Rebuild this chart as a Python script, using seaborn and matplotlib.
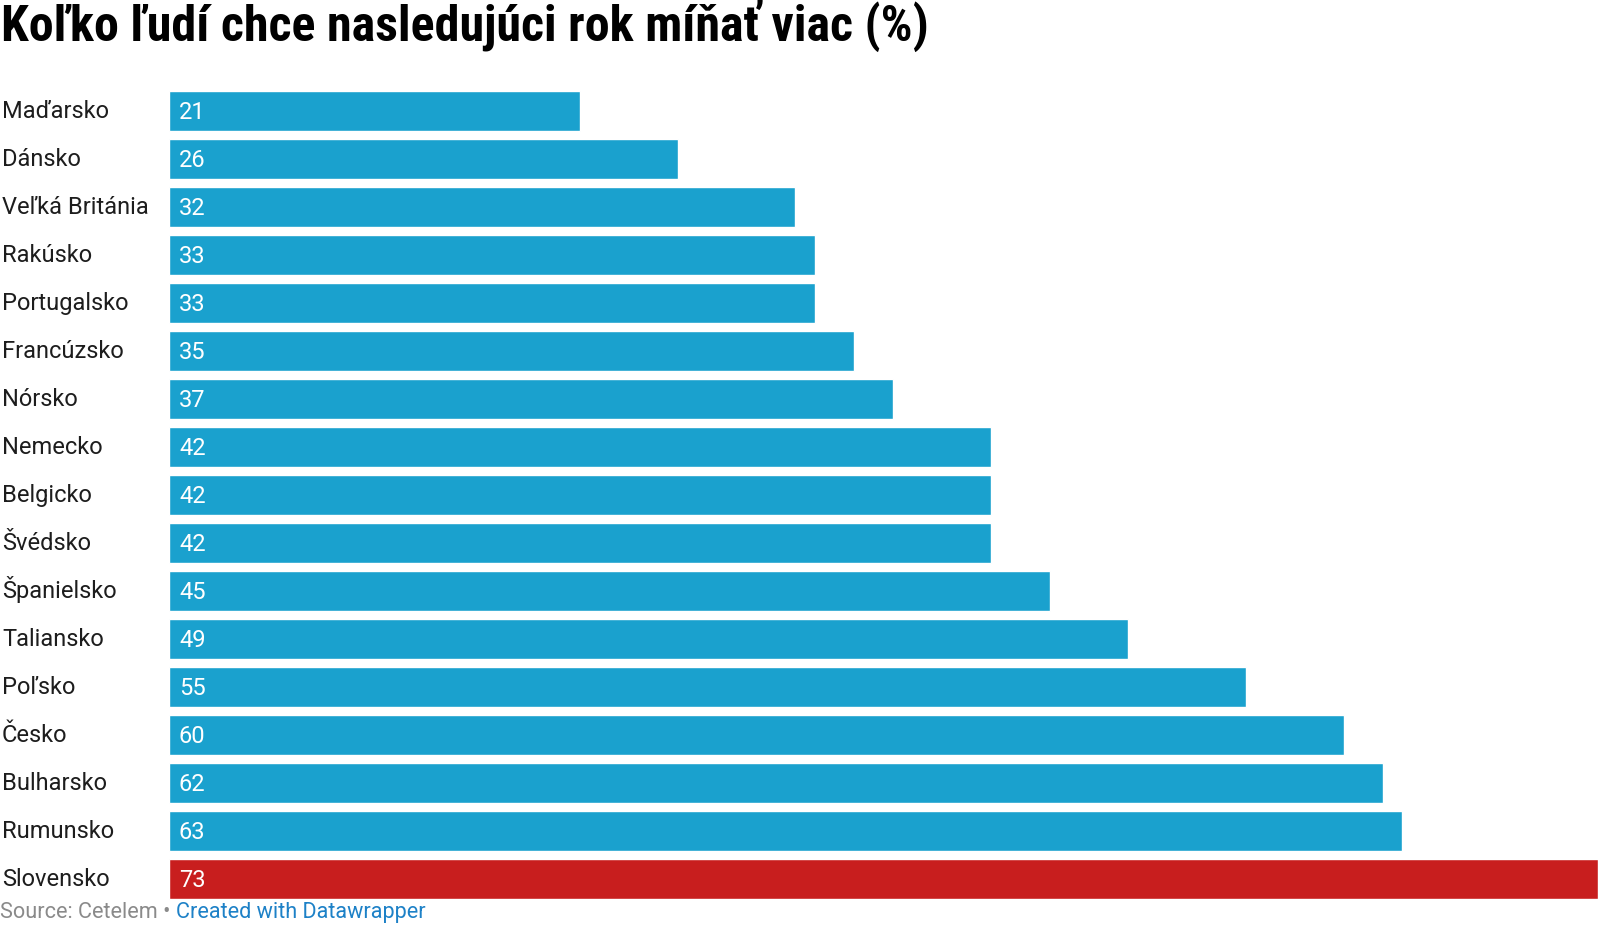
import matplotlib
matplotlib.use("Agg")
import matplotlib.pyplot as plt
import matplotlib.transforms as mtransforms
import seaborn as sns
import pandas as pd

countries = ["Maďarsko", "Dánsko", "Veľká Británia", "Rakúsko", "Portugalsko",
             "Francúzsko", "Nórsko", "Nemecko", "Belgicko", "Švédsko",
             "Španielsko", "Taliansko", "Poľsko", "Česko", "Bulharsko",
             "Rumunsko", "Slovensko"]
values = [21, 26, 32, 33, 33, 35, 37, 42, 42, 42, 45, 49, 55, 60, 62, 63, 73]
highlight = "Slovensko"

title = "Koľko ľudí chce nasledujúci rok míňať viac (%)"
source_text = "Source: Cetelem • "
credit_text = "Created with Datawrapper"

BLUE = "#1aa1ce"
RED = "#c81e1e"

sns.set_theme(style="white")
plt.rcParams["font.family"] = ["Roboto", "DejaVu Sans"]

W, H, DPI = 1600, 928, 100
fig = plt.figure(figsize=(W / DPI, H / DPI), dpi=DPI)

# axes geometry in pixels
left_px, right_px = 169, 1598
top_px, bottom_px = 87.6, 903.6
ax = fig.add_axes([left_px / W, 1 - bottom_px / H,
                   (right_px - left_px) / W, (bottom_px - top_px) / H])

df = pd.DataFrame({"country": countries, "value": values})
palette = {c: (RED if c == highlight else BLUE) for c in countries}
sns.barplot(data=df, x="value", y="country", hue="country", palette=palette,
            legend=False, orient="h", width=0.83, saturation=1, ax=ax,
            order=countries)

ax.set_xlim(0, max(values))
ax.set_ylim(len(countries) - 0.5, -0.5)
ax.set_xlabel("")
ax.set_ylabel("")
ax.set_xticks([])
ax.set_yticks([])
for s in ax.spines.values():
    s.set_visible(False)
ax.set_facecolor("white")

# country labels at figure left
label_trans = mtransforms.blended_transform_factory(fig.transFigure, ax.transData)
label_trans = mtransforms.offset_copy(label_trans, fig=fig, y=-6.6, units="dots")
val_trans = mtransforms.offset_copy(ax.transData, fig=fig, x=10, y=-7.6, units="dots")
for i, (c, v) in enumerate(zip(countries, values)):
    ax.text(2 / W, i, c, transform=label_trans, ha="left", va="baseline",
            fontsize=17, color="#1d1d1d", clip_on=False)
    ax.text(0, i, str(v), transform=val_trans, ha="left", va="baseline",
            fontsize=17, color="white")

# title
fig.text(1 / W, 1 - 41 / H, title, ha="left", va="baseline",
         fontsize=36, fontweight="bold", color="#000000",
         family=["Roboto Condensed", "Roboto", "DejaVu Sans"])

# footer
t1 = fig.text(0, 1 - 918.5 / H, source_text, ha="left", va="baseline",
              fontsize=15.6, color="#8a8a8a")
ann = ax.annotate(credit_text, xy=(1, 0), xycoords=t1, ha="left", va="bottom",
                  fontsize=15.6, color="#1d81c7", annotation_clip=False)

fig.savefig("out.png", dpi=DPI, facecolor="white")
